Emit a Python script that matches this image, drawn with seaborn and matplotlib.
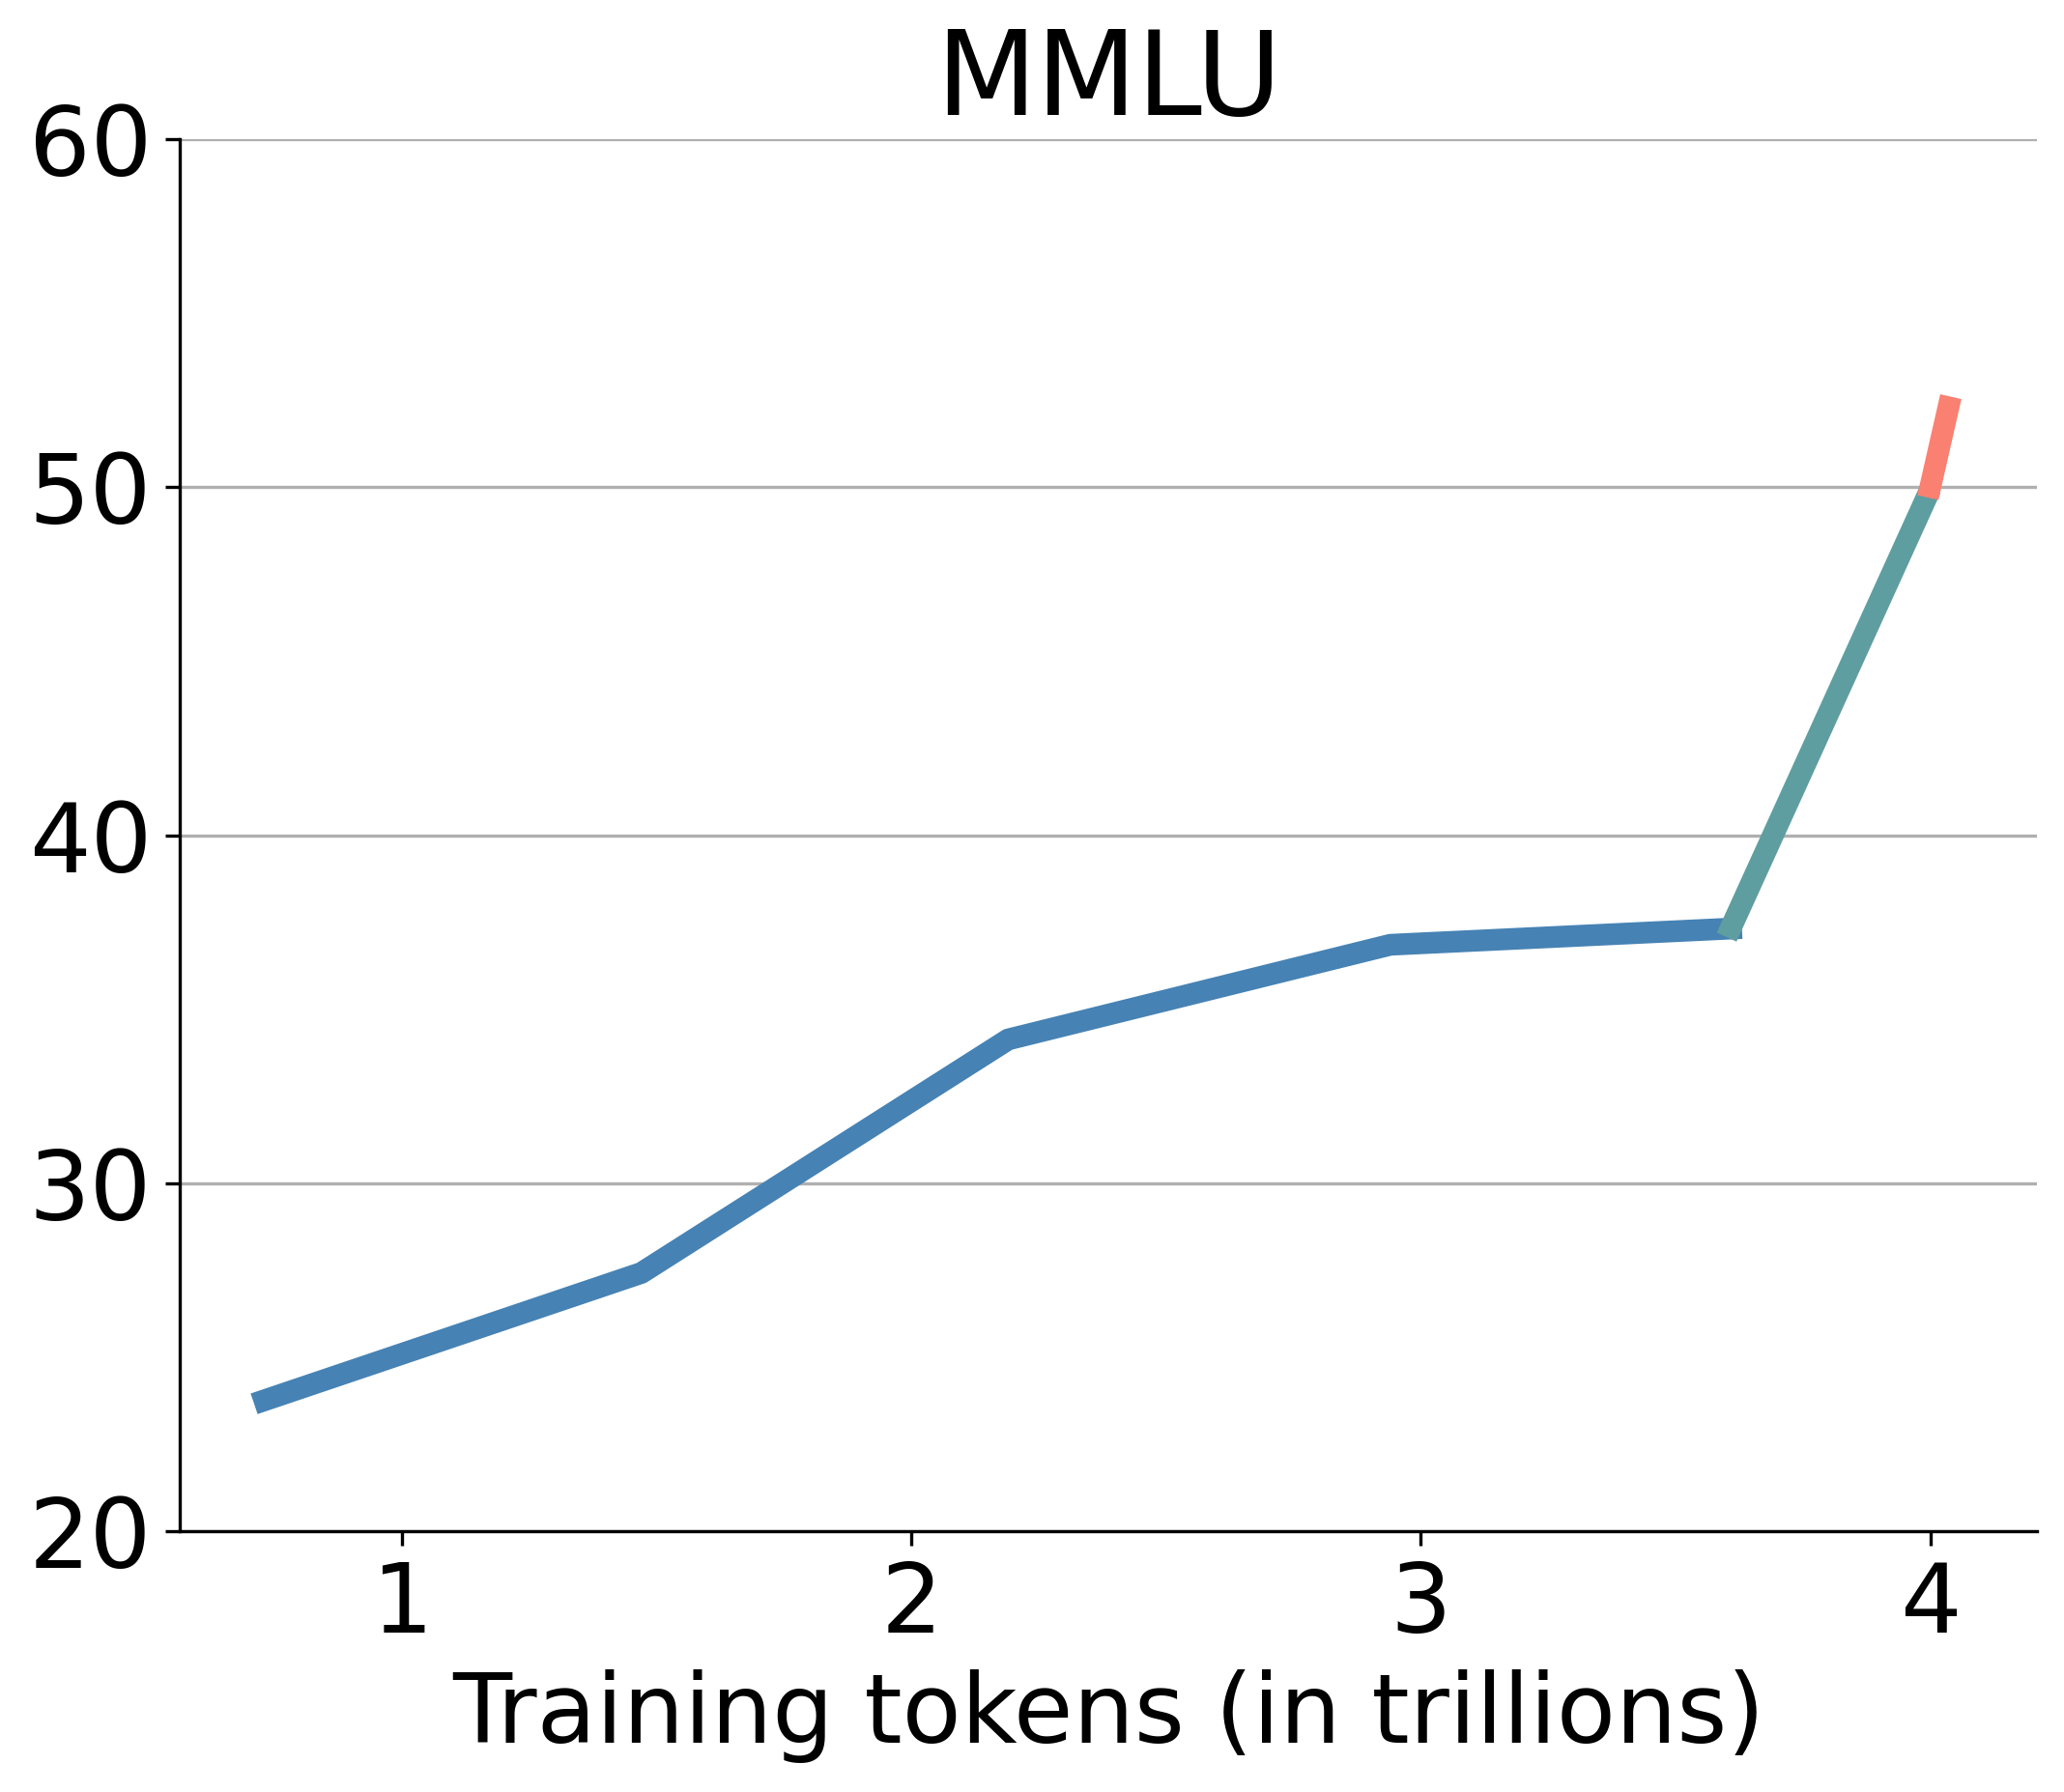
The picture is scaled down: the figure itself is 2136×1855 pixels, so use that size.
import matplotlib
matplotlib.use("Agg")
import matplotlib.pyplot as plt
import seaborn as sns
import pandas as pd

# Data
pretrain_x = [0.71, 1.47, 2.19, 2.94, 3.63]
pretrain_y = [23.66, 27.42, 34.13, 36.85, 37.33]
anneal_x = [3.60, 4.00]
anneal_y = [37.07, 49.95]
final_x = [3.995, 4.04]
final_y = [49.7, 52.6]

phase_names = ["pretrain", "anneal", "final"]
phase_colors = ["#4682B4", "#5F9EA0", "#FA8072"]

x_ticks = [1, 2, 3, 4]
y_ticks = [20, 30, 40, 50, 60]

title = "MMLU"
x_label = "Training tokens (in trillions)"

df = pd.concat([
    pd.DataFrame({"x": pretrain_x, "y": pretrain_y, "phase": phase_names[0]}),
    pd.DataFrame({"x": anneal_x, "y": anneal_y, "phase": phase_names[1]}),
    pd.DataFrame({"x": final_x, "y": final_y, "phase": phase_names[2]}),
], ignore_index=True)

plt.rcParams['font.family'] = ['DejaVu Sans']

fig = plt.figure(figsize=(2136 / 300, 1855 / 300), dpi=300)
ax = fig.add_axes([186 / 2136, 1 - 1585 / 1855, (2108 - 186) / 2136, (1585 - 144) / 1855])

for name, color in zip(phase_names, phase_colors):
    sub = df[df["phase"] == name]
    sns.lineplot(data=sub, x="x", y="y", ax=ax, color=color, linewidth=5.4,
                 sort=False, estimator=None, legend=False,
                 solid_capstyle="butt")

ax.set_xlim(0.564, 4.209)
ax.set_ylim(20, 60)
ax.set_xticks(x_ticks)
ax.set_xticklabels([str(t) for t in x_ticks])
ax.set_yticks(y_ticks)
ax.set_yticklabels([str(t) for t in y_ticks])
ax.tick_params(labelsize=24)
ax.yaxis.grid(True, color="#b0b0b0", linewidth=0.8)
ax.xaxis.grid(False)
ax.set_title(title, fontsize=29)
ax.set_xlabel(x_label, fontsize=24)
ax.set_ylabel("")
sns.despine(ax=ax)

fig.savefig("out.png", dpi=300)
